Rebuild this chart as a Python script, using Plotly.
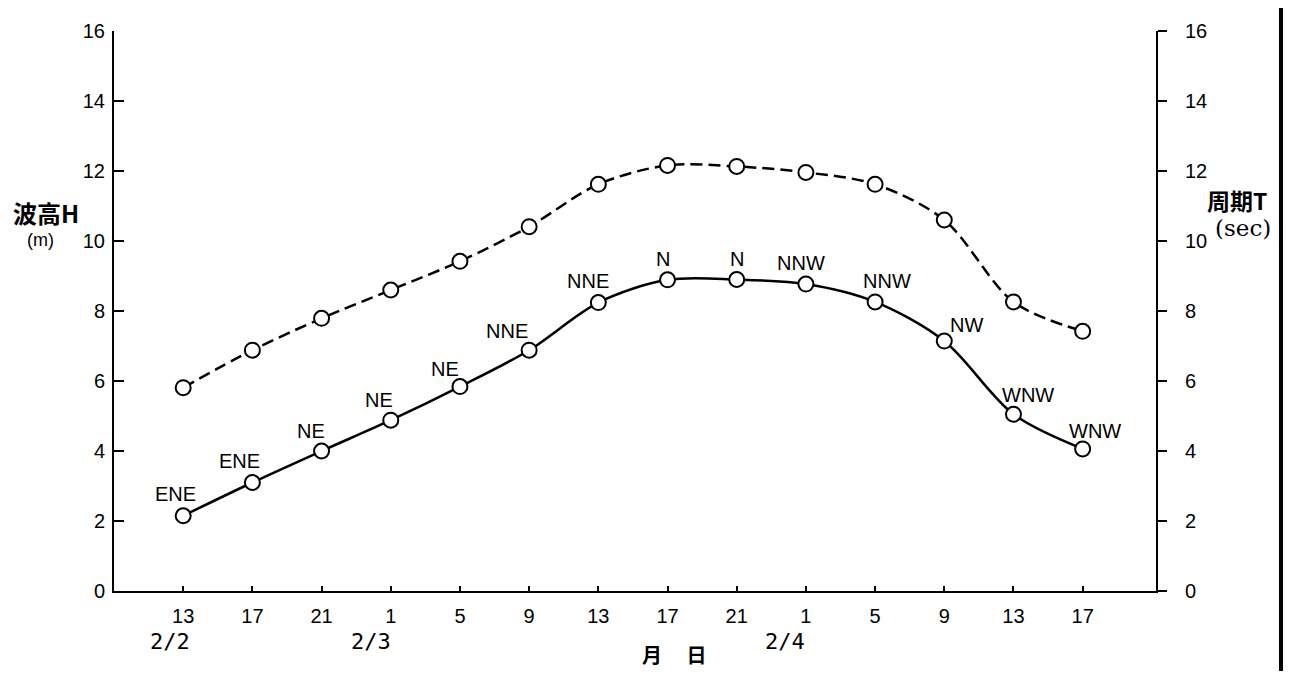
import plotly.graph_objects as go

# ---- data ----
times = ["13", "17", "21", "1", "5", "9", "13", "17", "21", "1", "5", "9", "13", "17"]
wave_height = [2.15, 3.1, 4.0, 4.88, 5.84, 6.88, 8.24, 8.89, 8.9, 8.77, 8.26, 7.14, 5.05, 4.06]
wave_period = [5.81, 6.88, 7.79, 8.6, 9.42, 10.41, 11.62, 12.16, 12.13, 11.96, 11.62, 10.6, 8.26, 7.42]
directions = ["ENE", "ENE", "NE", "NE", "NE", "NNE", "NNE", "N", "N", "NNW", "NNW", "NW", "WNW", "WNW"]
y_ticks = [0, 2, 4, 6, 8, 10, 12, 14, 16]
date_labels = ["2/2", "2/3", "2/4"]

# ---- layout / style ----
xpos = list(range(len(times)))
date_x = [-0.19, 2.72, 8.7]
label_dx = [-8, -13, -11, -12, -15, -22, -10, -5, 0, -5, 12, 22, 15, 12]
label_dy = [-22, -22, -20, -20, -18, -19, -22, -21, -21, -21, -21, -16, -19, -18]

# page has an 8px body margin: figure drawn from (8, 8)
OFF = 8
W, H = 1291 - 2 * OFF, 679 - 2 * OFF
L, T = 114 - OFF, 24 - OFF
PW, PH = 1042, 567
R = W - L - PW
B = H - T - PH


def px(xp):
    return (xp - 114) / PW


def py(yp):
    return (591 - yp) / PH


SANS = "Liberation Sans, Arial, sans-serif"
MONO = "DejaVu Sans Mono, monospace"
TICK_FONT = dict(family=SANS, size=20, color="black")
CJK = "Noto Sans CJK JP, sans-serif"

fig = go.Figure()

fig.add_trace(go.Scatter(
    x=xpos, y=wave_period, yaxis="y2", mode="lines+markers",
    line=dict(color="black", width=2.5, dash="12px,6px", shape="spline", smoothing=0.9),
    marker=dict(size=15, color="white", line=dict(color="black", width=2)),
    showlegend=False, hoverinfo="skip",
))
fig.add_trace(go.Scatter(
    x=xpos, y=wave_height, mode="lines+markers",
    line=dict(color="black", width=2.5, shape="spline", smoothing=0.9),
    marker=dict(size=15, color="white", line=dict(color="black", width=2)),
    showlegend=False, hoverinfo="skip",
))

annotations = []
for i, d in enumerate(directions):
    annotations.append(dict(
        x=xpos[i], y=wave_height[i], xref="x", yref="y", text=d,
        showarrow=True, arrowcolor="rgba(0,0,0,0)", ax=label_dx[i], ay=label_dy[i],
        font=dict(family=SANS, size=20, color="black"),
    ))

for dl, dx in zip(date_labels, date_x):
    annotations.append(dict(
        x=dx, y=py(642), xref="x", yref="paper", text=dl, showarrow=False,
        xanchor="center", yanchor="middle",
        font=dict(family=MONO, size=22, color="black"),
    ))


def note(x, y, text, family, size):
    return dict(x=px(x), y=py(y), xref="paper", yref="paper", text=text, showarrow=False,
                xanchor="center", yanchor="middle",
                font=dict(family=family, size=size, color="black"))


annotations += [
    note(46, 208, "<b>波高H</b>", CJK, 24),
    note(40, 236, "(m)", SANS, 18),
    note(1237, 195, "<b>周期T</b>", CJK, 23),
    note(1243, 223, "(sec)", "DejaVu Serif, serif", 23),
    note(674, 655, "<b>月　 日</b>", CJK, 20),
]

fig.update_layout(
    width=W, height=H,
    margin=dict(l=L, r=R, t=T, b=B, pad=0),
    paper_bgcolor="white", plot_bgcolor="white",
    xaxis=dict(
        range=[-1, 14.06], tickvals=xpos, ticktext=times,
        showgrid=False, zeroline=False, showline=True, linecolor="black", linewidth=2,
        ticks="inside", ticklen=5, tickwidth=1.5, tickcolor="black",
        tickfont=TICK_FONT, ticklabelstandoff=6,
    ),
    yaxis=dict(
        range=[0, 16], tickvals=y_ticks,
        showgrid=False, zeroline=False, showline=True, linecolor="black", linewidth=2,
        ticks="inside", ticklen=10, tickwidth=1.5, tickcolor="black",
        tickfont=TICK_FONT, ticklabelstandoff=3,
    ),
    yaxis2=dict(
        range=[0, 16], tickvals=y_ticks, overlaying="y", side="right",
        showgrid=False, zeroline=False, showline=True, linecolor="black", linewidth=2,
        ticks="outside", ticklen=9, tickwidth=1.5, tickcolor="black",
        tickfont=TICK_FONT, ticklabelstandoff=14,
    ),
    annotations=annotations,
    shapes=[dict(type="line", xref="paper", yref="paper",
                 x0=px(1281), x1=px(1281), y0=py(679), y1=py(0),
                 line=dict(color="black", width=4))],
)

fig.write_html("out.html")
